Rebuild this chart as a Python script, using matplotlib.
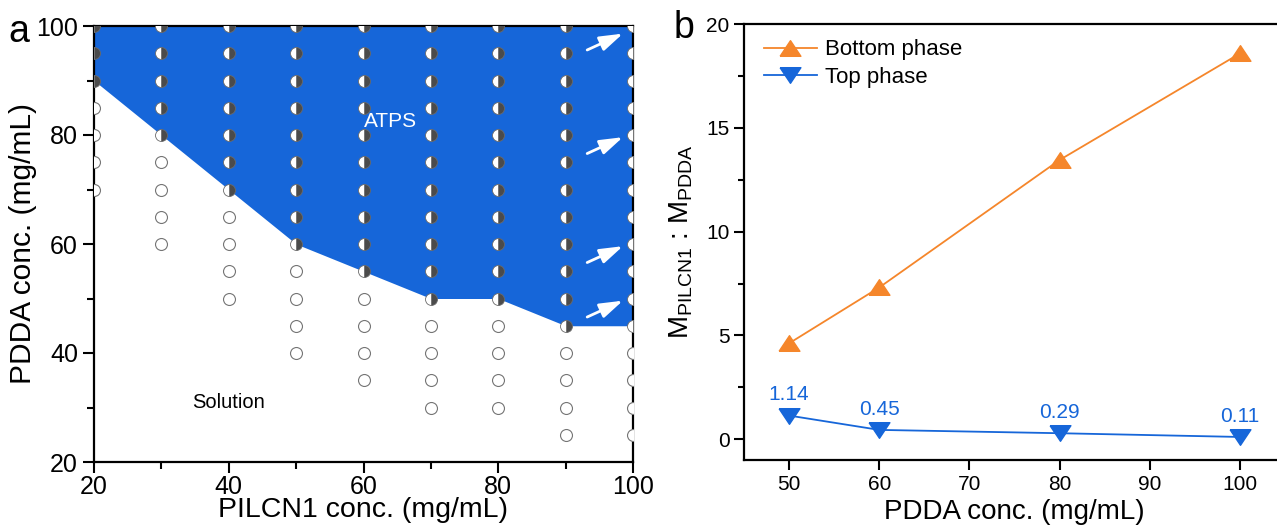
import numpy as np
import matplotlib
matplotlib.use("Agg")
import matplotlib.pyplot as plt

plt.rcParams["font.family"] = ["Liberation Sans", "DejaVu Sans"]
plt.rcParams["mathtext.fontset"] = "custom"
plt.rcParams["mathtext.rm"] = "Liberation Sans"
plt.rcParams["mathtext.it"] = "Liberation Sans:italic"

# ---- panel a: phase diagram ----
pilcn1 = [20, 30, 40, 50, 60, 70, 80, 90, 100]
# lowest PDDA conc. tested per column, and the lowest conc. that gives ATPS
lowest_tested = [70, 60, 50, 40, 35, 30, 30, 25, 25]
boundary = [90, 80, 70, 60, 55, 50, 50, 45, 45]
pdda_max = 100

# arrows pointing at the x = 100 column
arrow_targets = [99, 80, 60, 50]

# ---- panel b: mass ratio ----
pdda = [50, 60, 80, 100]
bottom_phase = [4.62, 7.31, 13.45, 18.58]
top_phase = [1.14, 0.45, 0.29, 0.11]
top_labels = ["1.14", "0.45", "0.29", "0.11"]

BLUE = "#1666D9"
ORANGE = "#F5862B"

fig = plt.figure(figsize=(12.77, 5.30), dpi=100)
W, H = 1277, 530


def px_axes(x0, y0, x1, y1):
    return fig.add_axes([x0 / W, 1 - y1 / H, (x1 - x0) / W, (y1 - y0) / H])


# ================= panel a =================
ax = px_axes(94, 26, 633, 462)
ax.set_xlim(20, 100)
ax.set_ylim(20, 100)

ax.fill_between(pilcn1, boundary, pdda_max, color=BLUE, lw=0, zorder=1)

open_x, open_y, half_x, half_y = [], [], [], []
for x, lo, b in zip(pilcn1, lowest_tested, boundary):
    for y in range(lo, pdda_max + 1, 5):
        if y >= b:
            half_x.append(x)
            half_y.append(y)
        else:
            open_x.append(x)
            open_y.append(y)

ax.plot(open_x, open_y, "o", ms=8.6, mfc="white", mec="#747474", mew=0.8,
        ls="none", zorder=3)
ax.plot(half_x, half_y, "o", ms=8.6, fillstyle="right", mfc="#4b4b4b",
        mfcalt="white", mec="#6a6a6a", mew=0.6, ls="none", zorder=3)

for yt in arrow_targets:
    ax.annotate("", xy=(98.5, yt - 0.4), xytext=(93.2, yt - 3.4),
                arrowprops=dict(arrowstyle="-|>,head_length=1.4,head_width=0.45",
                                color="white", lw=2, shrinkA=0, shrinkB=0),
                zorder=4)

ax.text(64, 82.5, "ATPS", color="white", fontsize=15, ha="center", va="center")
ax.text(40, 31.0, "Solution", color="black", fontsize=14.5, ha="center", va="center")

ax.set_xticks([20, 40, 60, 80, 100])
ax.set_xticks([30, 50, 70, 90], minor=True)
ax.set_yticks([20, 40, 60, 80, 100])
ax.set_yticks([30, 50, 70, 90], minor=True)
ax.tick_params(which="both", direction="out", width=1.5, labelsize=18,
               top=False, right=False)
ax.tick_params(axis="x", which="both", pad=1.5)
ax.tick_params(which="major", length=8)
ax.tick_params(which="minor", length=5)
for s in ax.spines.values():
    s.set_linewidth(1.6)
ax.set_xlabel("PILCN1 conc. (mg/mL)", fontsize=20.5)
ax.xaxis.set_label_coords(0.5, -(497 - 462) / 436)
ax.set_ylabel("PDDA conc. (mg/mL)", fontsize=21.5)
ax.yaxis.set_label_coords(-(94 - 37) / 539, 0.5)

# ================= panel b =================
bx = px_axes(744, 24, 1285, 460)
bx.set_xlim(45, 105)
bx.set_ylim(-1, 20)

tri_up = [(-1, -0.75), (1, -0.75), (0, 0.75), (-1, -0.75)]
tri_down = [(-1, 0.75), (1, 0.75), (0, -0.75), (-1, 0.75)]

bx.plot(pdda, bottom_phase, color=ORANGE, lw=1.3, marker=tri_up, ms=15,
        mfc=ORANGE, mec=ORANGE, label="Bottom phase")
bx.plot(pdda, top_phase, color=BLUE, lw=1.3, marker=tri_down, ms=15,
        mfc=BLUE, mec=BLUE, label="Top phase")

for x, y, t in zip(pdda, top_phase, top_labels):
    bx.annotate(t, (x, y), xytext=(0, 8), textcoords="offset points",
                ha="center", va="bottom", color=BLUE, fontsize=15)

leg = bx.legend(loc="upper left", frameon=False, fontsize=16,
                handlelength=2.4, handletextpad=0.35, labelspacing=0.3,
                borderaxespad=0, bbox_to_anchor=(0.02, 0.985))

bx.set_xticks([50, 60, 70, 80, 90, 100])
bx.set_yticks([0, 5, 10, 15, 20])
bx.set_yticks([2.5, 7.5, 12.5, 17.5], minor=True)
bx.tick_params(which="both", direction="out", width=1.5, labelsize=15,
               top=False, right=False)
bx.tick_params(which="major", length=7)
bx.tick_params(which="minor", length=4.5)
for s in bx.spines.values():
    s.set_linewidth(1.6)
bx.spines["right"].set_visible(False)
bx.set_xlabel("PDDA conc. (mg/mL)", fontsize=20, labelpad=4)
bx.set_ylabel(r"M$_{\mathrm{PILCN1}}$ : M$_{\mathrm{PDDA}}$", fontsize=20, labelpad=8)

fig.text(8 / W, 1 - 42 / H, "a", fontsize=27, ha="left", va="baseline")
fig.text(674 / W, 1 - 38 / H, "b", fontsize=27, ha="left", va="baseline")

fig.savefig("out.png", dpi=100)
